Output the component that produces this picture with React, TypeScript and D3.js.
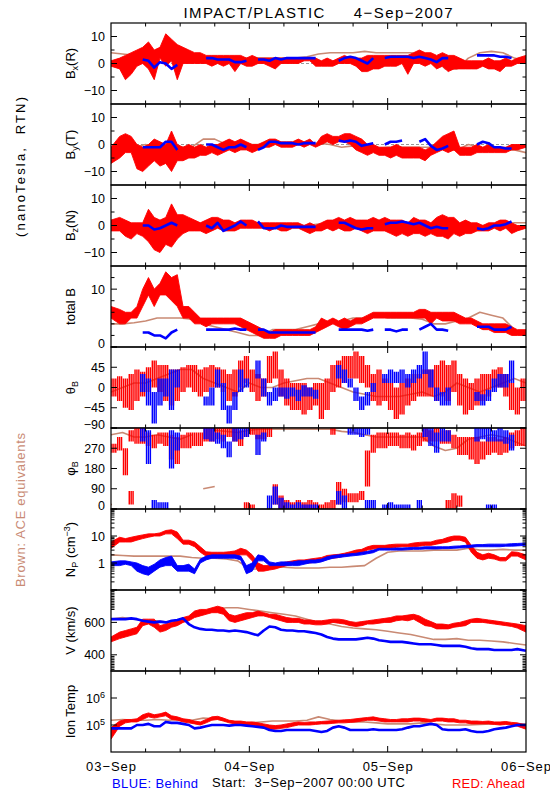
import React from "react";
import * as d3 from "d3";

type R = [number, number] | null;
type V = number | null;
const n = null;

// ---------- time axis ----------
const HOURS = 72;
const dayLabels = ["03-Sep", "04-Sep", "05-Sep", "06-Sep"];

// ---------- Bx(R) ----------
const bxRed: R[] = [[-1,1],[-2,2],[-6,3],[-4,4],[-1,5],[0,6],[-2,8],[-6,5],[2,6],[-1,11],
 [1,9],[-6,7],[0,6],[0,5],[0,4],[0,4],[0,3],[-1,3],[0,3],[-1,3],
 [0,3],[-3,3],[0,3],[-1,2],[-1,3],[0,2],[0,2],[-1,2],[-2,2],[0,2],
 [0,2],[0,2],[0,2],[1,2],[1,2],[-1,2],[-1,1],[-1,2],[-1,1],[0,2],
 [0,3],[0,2],[-1,2],[-3,2],[-3,3],[-2,3],[-2,3],[-1,3],[-1,3],[-1,3],
 [0,3],[-4,3],[0,4],[0,5],[-1,4],[0,4],[-2,3],[-1,4],[-3,3],[-2,3],
 [-2,2],[-2,1],[-2,1],[-2,1],[-1,1],[-2,2],[-2,1],[-3,1],[-1,2],[-1,1],
 [0,2],[0,3]];
const bxBlue: V[] = [n,n,n,n,n,1.5,1,-1.5,0.5,0,
 -2,-0.5,n,n,n,n,2,2,1.5,1.5,
 1.5,0.5,0.5,1,n,1.5,1.5,1,2,1.5,
 2,2,2,2,2,2,n,n,n,1,
 2,2.5,2,1,0,2,n,2,2.5,2.5,
 2.5,2.5,2,2.5,2,1.5,0.5,2,2,n,
 n,n,n,3,3,3,3,2.5,2.5,2,
 n,n];
const bxBrown: V[] = [4,3.5,3,3,4,5,4,3,2,2,1.5,2,2,2,2,2,2,2.5,3.5,4,4,4,4.5,4,4,4,4,3.5,2,-2,-2,2,4,4.5,4,2,1];

// ---------- By(T) ----------
const byRed: R[] = [[-7,-1],[-5,3],[-3,4],[-3,3],[-9,0],[-10,-1],[-8,0],[-6,2],[-8,1],[-7,0],
 [-10,5],[-6,0],[-6,-1],[-5,0],[-5,-1],[-4,0],[-4,-1],[-3,0],[-4,0],[-3,1],
 [-2,2],[-3,1],[-2,2],[-2,1],[-3,0],[-2,0],[-1,1],[-1,2],[0,2],[-1,1],
 [-1,1],[-1,1],[0,2],[-1,1],[0,2],[-1,0],[0,3],[1,4],[0,3],[1,3],
 [1,4],[0,4],[-2,3],[-3,2],[-4,0],[-3,0],[-4,-1],[-4,-1],[-5,-1],[-4,0],
 [-5,-1],[-5,-1],[-5,-1],[-5,-1],[-6,-2],[-4,-1],[-3,1],[-2,3],[-3,4],[-2,5],
 [-4,-1],[-4,-1],[-4,-1],[-3,0],[-3,-1],[-3,0],[-3,-1],[-3,-1],[-3,-1],[-2,0],
 [-2,0],[-1,0]];
const byBlue: V[] = [n,n,n,n,n,-1,-1,-1,-1,1,
 1,-2,n,n,n,n,0,0,-1,-2,
 -1,-1,0,-1,n,-2,-1,1,1,0.5,
 0.5,0.5,0,0.5,0.5,0.5,n,n,n,1.5,
 1,1.5,1,-0.5,0,0.5,n,0,1,1,
 1.5,n,n,1,2,-0.5,-2,-1.5,-0.5,n,
 n,n,n,0,1,0.5,-1,-1,-1.5,-1.5,
 n,n];
const byBrown: V[] = [-2,-2,-1,0,-1,-1,-1,-1,2,2,0,0,0,0,0.5,0,0,0,0.5,0,-1,-0.5,-1,-1.5,-1,-1,-1,-1,-1,-2,-2,0,-1,-2,-2,-2,-3];

// ---------- Bz(N) ----------
const bzRed: R[] = [[-2,2],[-2,3],[-4,2],[-5,1],[-3,1],[-4,1],[-6,6],[-9,3],[-10,2],[-7,3],
 [-8,8],[-5,4],[-3,4],[-2,3],[-2,2],[-2,1],[-3,2],[-2,3],[-1,3],[-2,2],
 [-2,2],[-2,1],[-1,2],[-1,2],[-1,2],[-1,1],[-1,1],[-2,1],[-1,1],[-2,1],
 [-2,1],[-1,1],[-1,1],[-2,0],[-3,1],[-2,0],[-2,1],[-1,2],[-2,2],[-1,3],
 [-2,2],[-2,3],[-1,2],[-2,2],[-3,2],[-2,3],[-2,2],[-2,3],[-3,2],[-4,2],
 [-3,2],[-4,1],[-3,3],[-3,2],[-4,2],[-3,1],[-4,3],[-4,4],[-5,3],[-3,3],
 [-4,1],[-3,2],[-3,1],[-2,1],[-2,0],[-2,1],[-1,1],[-2,2],[-1,2],[-3,1],
 [-2,0],[-1,0]];
const bzBlue: V[] = [n,n,n,n,n,0,0,-1.5,-1,0,
 1,0,n,n,n,n,0,-1,1,-2,
 -1,0,1.5,0,n,1.5,-1,-1,-1,0,
 -0.5,-0.5,-0.5,-0.5,-0.5,-0.5,n,n,n,1,
 1,0,-1,-1.5,-1,-1,n,0.5,1,1,
 1.5,1,0.5,1,0,-1,-0.5,-1,-1,n,
 n,n,n,-1,-1.5,-1,0,0,0.5,1.5,
 n,n];
const bzBrown: V[] = [1,1,0,0,-1,0,1,0.5,1,1,0,0,0,0,0,0,0,0,0.5,0.5,0,0,-0.5,-1,0,0,-0.5,-1,0,-1,0,0,0,0,0.5,1,1];

// ---------- total B ----------
const btRed: R[] = [[5,7],[4,6.5],[4,6],[5,6],[5,7],[7,10],[9,12],[7,10],[9,11],[9,13],
 [8,12],[7,12.5],[5,7],[5,7],[4,6],[4,5],[3.5,5],[4,5],[4,5],[4,5],
 [4,5],[4,5],[3.5,5],[3,4.5],[2.5,4],[2,3.5],[1.5,3],[1.5,2.5],[1.5,3],[2,3],
 [2,3],[2,3],[2,3],[2,3],[2,3],[2.5,3.5],[3,5],[3.5,4.5],[4,5],[3.5,4.5],
 [3,5],[3.5,4.5],[4,5],[4,5],[4.5,5.5],[5,6],[5,6],[5,6],[5,6],[5,6],
 [5,6],[5,6],[5,6],[5,6.5],[5,6.5],[4,6],[5,6],[4.5,6],[4.5,6],[4.5,6],
 [4,5.5],[4,5],[4,5],[3.5,4.5],[3,4],[3,4],[2.5,4],[2.5,4],[2.5,4],[2,3.5],
 [2,3],[2,3]];
const btBlue: V[] = [n,n,n,n,n,2.5,2.5,2,2,1.5,
 2.5,3,n,n,n,n,3,3,3,3,
 3,3.2,3,3,n,3,3,2.5,2.5,2.5,
 2.5,2.5,2.5,2.5,2.5,2.5,n,n,n,3,
 3,3,3,3,2.8,3,n,3,3,2.7,
 3,3,n,3,3.5,4,3,3,2.8,n,
 n,n,n,3.5,3.5,3.5,3,3,3,3.5,
 n,n];
const btBrown: V[] = [4,4,4.2,4.5,5,5,5,4.8,4,3.5,3,2.5,2,2,3,3,3,3.5,4,4,4.5,5,5,5.5,5,5,5,4.8,4,4,4.5,5,6,5.5,5,3,2];

// ---------- theta_B ----------
const thRed: R[] = [[-20,20],[-30,25],[-45,20],[-50,30],[-30,40],[-20,35],[-10,45],[0,60],[-10,50],[-30,50],
 [-40,40],[-30,40],[-10,45],[0,50],[-10,50],[-20,40],[-10,45],[0,50],[0,45],[-10,40],
 [-30,30],[-20,40],[0,60],[10,70],[-10,40],[-30,30],[-20,20],[10,70],[20,80],[-20,40],
 [-40,20],[-50,10],[-50,10],[-60,10],[-50,0],[-40,10],[-70,10],[-50,20],[-10,50],[0,60],
 [10,70],[20,70],[20,80],[10,70],[0,50],[-30,30],[-40,40],[-30,20],[-50,10],[-70,0],
 [-60,10],[-40,20],[-30,30],[-20,30],[-20,40],[-20,40],[-30,50],[-20,60],[-30,50],[-10,60],
 [-40,30],[-60,20],[-50,10],[-40,20],[-30,30],[-20,30],[0,40],[0,45],[-20,30],[-50,10],
 [-60,0],[-30,20]];
const thBlue: R[] = [n,n,n,n,n,[-10,30],[-40,20],[-80,-10],[-40,20],[-20,20],
 [-50,40],[0,40],n,n,n,n,[-40,-20],[-40,0],[0,40],[-50,10],
 [-80,-40],[-50,-10],[-10,40],[0,20],n,[20,60],[-20,20],[-40,-10],[-30,0],[-20,0],
 [-25,0],[-20,0],[-30,-5],[-20,5],[-20,0],[-25,-5],n,n,n,[20,50],
 [10,40],[0,20],[-30,0],[-50,-20],[-40,-10],[-10,10],n,[10,30],[10,40],[10,35],
 [10,40],[0,30],[10,40],[20,50],[30,80],[0,40],[-30,0],[-40,-10],[-40,0],n,
 n,n,n,[-30,-10],[-40,-15],[-30,-5],[-10,20],[0,30],[0,30],[10,60],
 n,n];
const thBrown: V[] = [-10,0,10,10,20,30,40,40,20,10,0,-10,10,0,0,10,15,20,20,10,0,-10,-15,-20,-20,-20,-15,-10,-20,-10,10,0,-10,0,10,20,10];

// ---------- phi_B ----------
const phRedUp: R[] = [[250,290],[260,320],[150,270],[300,350],[290,360],[290,360],[280,340],[270,330],[290,340],[280,340],
 [220,330],[200,320],[270,330],[270,340],[280,340],[280,340],[300,360],[300,360],[310,360],[300,360],
 [320,360],[300,360],[280,350],[320,360],[330,360],[310,360],[310,360],[320,360],n,n,
 n,n,n,n,n,n,n,n,[330,360],n,
 n,n,n,n,[100,260],[250,330],[270,340],[270,340],[280,340],[280,340],
 [270,330],[270,340],[260,330],[280,340],[300,360],[300,350],[300,360],[290,350],[290,350],[270,330],
 [240,320],[240,320],[220,320],[200,320],[220,300],[240,320],[250,320],[240,310],[250,320],[270,340],
 [280,350],[280,360]];
const phRedLo: R[] = [n,n,n,[20,80],n,n,n,n,n,n,
 n,n,n,n,n,n,n,n,n,n,
 n,n,n,[0,30],[0,20],n,n,n,[20,110],[0,60],
 [0,40],[0,30],[0,40],[0,30],[0,40],[0,30],[0,20],[0,30],[0,40],[20,120],
 [30,90],[30,70],[30,70],[40,80],n,n,n,n,n,n,
 n,n,n,n,n,n,n,n,[0,40],[0,70],
 [10,60],n,n,n,n,n,n,n,n,n,
 n,n];
const phBlueUp: R[] = [n,n,n,n,n,[300,360],[200,350],n,n,n,
 [180,350],[260,340],n,n,n,n,[310,360],[300,360],[290,340],[270,330],
 [230,300],[300,360],[310,360],[320,360],n,[240,330],[300,340],n,n,n,
 n,n,n,n,n,n,n,n,n,n,
 n,[330,360],[330,360],[320,360],[330,360],n,n,n,n,n,
 n,n,n,n,[320,360],[280,360],[250,340],[300,360],[300,350],n,
 n,n,n,[300,360],[310,360],[300,360],[300,350],[300,360],[290,350],[260,330],
 n,n];
const phBlueLo: R[] = [n,n,n,n,n,n,n,[0,40],[0,30],[0,30],
 n,n,n,n,n,n,n,n,n,n,
 n,n,n,n,n,n,n,[0,60],[20,100],[0,50],
 [0,30],[0,20],[0,30],[0,20],[0,20],[0,20],n,n,n,[20,80],
 [0,60],n,n,n,[0,40],[0,40],n,[0,20],[0,30],[0,20],
 [0,20],[0,20],n,[0,40],n,n,n,n,n,n,
 n,n,n,n,n,[0,20],[0,20],n,n,n,
 n,n];
const phBrownUp: V[] = [330,340,320,320,330,320,310,330,n,350,345,340,350,355,355,355,355,355,355,355,345,340,330,320,320,320,320,320,280,260,270,310,320,330,320,300,280];
const phBrownLo: V[] = [20,n,n,n,n,n,n,n,90,100,n,n,n,n,n,n,n,n,n,n,n,n,n,n,n,n,n,n,n,n,n,n,n,n,n,n,n];

// ---------- Np ----------
const npRed: R[] = [[3.5,6],[6,9],[6,8],[6,9],[7,10],[8,11],[9,12],[10,12],[10,13],[12,16],
 [12,17],[8,14],[5,7],[5,7],[4,6],[2.5,4],[1.8,2.6],[1.7,2.5],[1.7,2.5],[1.7,2.5],
 [1.7,2.6],[1.8,2.8],[2,3.5],[2,3],[1.2,2],[0.5,1],[0.5,0.8],[0.55,0.8],[0.6,0.9],[0.7,1],
 [0.8,1.1],[0.9,1.2],[0.9,1.3],[1,1.3],[1,1.4],[1.1,1.5],[1.2,1.6],[1.4,1.9],[1.5,2],[1.6,2.1],
 [1.8,2.3],[2,2.6],[2.2,3],[2.4,3.2],[3,4],[3.3,4.5],[3.5,4.5],[3.5,4.5],[3.5,4.8],[3.8,5],
 [4,5],[4,5],[4,5.5],[4.2,5.8],[4.5,6],[4.5,6],[5,7],[5.5,7.5],[6,9],[7,10],
 [7,10],[6,9],[2.5,4.5],[1.5,2.5],[1.3,2],[1.5,2.3],[1.4,2],[1.2,1.6],[1.2,1.6],[1.8,2.6],
 [1.8,2.5],[1.3,2]];
const npBlue: R[] = [[0.8,1.1],[0.8,1.2],[0.9,1.2],[0.8,1.1],[0.5,1],[0.4,0.8],[0.35,0.7],[0.5,0.9],[0.7,1.3],[0.8,1.6],
 [0.8,1.8],[0.5,0.8],[0.5,0.8],[0.5,0.9],[0.4,0.6],[1,1.4],[1.3,1.8],[1.5,2],[1.5,2],[1.5,2],
 [1.5,2],[1.5,2],[1.3,1.8],[0.4,0.8],[0.5,1],[1.2,2],[1.2,1.8],[0.8,1.1],[0.8,1],[0.8,1.1],
 [0.8,1.1],[0.8,1.1],[0.8,1.2],[0.9,1.2],[1,1.3],[1,1.3],[1.1,1.4],[1.3,1.7],[1.5,1.9],[1.6,2],
 [1.7,2.1],[1.8,2.2],[1.9,2.3],[2,2.5],[2.2,2.7],[2.4,3],[3,3.5],[3,3.5],[3,3.5],[3,3.6],
 [3,3.6],[3.1,3.7],[3.2,3.8],[3.2,3.8],[3.3,4],[3.3,4],[3.3,4],[3.4,4],[3.4,4],[3.5,4.2],
 [3.6,4.3],[3.7,4.5],[3.8,4.6],[4,4.8],[4,4.8],[4,5],[4,5],[4,5],[4.2,5],[4.2,5.2],
 [4.3,5.3],[4.5,5.5]];
const npBrown: V[] = [2,1.9,1.8,1.8,1.8,1.8,1.8,1.6,1.5,1.5,1.4,1.2,0.6,0.6,0.7,0.7,0.65,0.65,0.65,0.7,0.7,0.75,0.8,1.5,2.5,2.8,2.8,2.8,3,3,3,3.5,3,3,3.2,3,3];

// ---------- V ----------
const vRed: R[] = [[480,510],[500,540],[510,550],[520,560],[530,570],[580,620],[590,620],[570,620],[540,580],[550,590],
 [570,600],[580,610],[600,630],[610,640],[630,670],[640,680],[650,680],[660,690],[660,700],[650,690],
 [610,650],[600,640],[610,650],[620,660],[630,660],[640,670],[640,660],[630,650],[620,650],[610,640],
 [600,630],[600,625],[600,625],[590,615],[590,615],[585,610],[585,610],[590,615],[600,620],[595,620],
 [590,615],[580,605],[575,600],[580,605],[590,610],[590,615],[595,620],[600,625],[600,630],[610,640],
 [615,640],[610,645],[620,650],[600,640],[580,620],[575,605],[560,590],[560,590],[560,585],[570,595],
 [575,600],[580,610],[600,620],[600,625],[600,620],[595,615],[590,610],[585,605],[580,600],[575,595],
 [565,590],[540,580]];
const vBlue: V[] = [620,620,620,625,620,610,605,600,605,600,610,615,625,590,570,560,555,555,550,550,
 545,550,545,540,530,520,550,575,570,555,550,550,545,545,540,535,525,510,500,495,
 495,495,495,500,505,500,490,485,480,480,480,475,470,465,465,465,460,455,455,455,
 455,450,440,435,435,435,430,430,430,430,435,425];
const vBrown: V[] = [620,630,620,610,610,600,610,640,660,680,690,690,680,670,660,650,640,620,600,590,575,565,560,555,545,535,525,510,495,495,500,490,490,485,480,470,460];

// ---------- Ion Temp ----------
const tRed: R[] = [[3e4,8e4],[9e4,1.4e5],[1.2e5,1.6e5],[1.3e5,1.6e5],[1.3e5,1.7e5],[1.6e5,2.4e5],[2e5,2.8e5],[1.8e5,2.4e5],[2e5,2.6e5],[2.2e5,3e5],
 [1.6e5,2.2e5],[1.5e5,2e5],[1.3e5,1.7e5],[1.2e5,1.6e5],[1.1e5,1.4e5],[1e5,1.3e5],[1.2e5,1.6e5],[1.5e5,2e5],[1.6e5,2.1e5],[1.4e5,1.8e5],
 [1.2e5,1.5e5],[1.1e5,1.4e5],[1.1e5,1.4e5],[1e5,1.3e5],[1e5,1.3e5],[9e4,1.2e5],[8e4,1.1e5],[7e4,1e5],[7e4,9.5e4],[7.5e4,1e5],
 [8e4,1.1e5],[9e4,1.2e5],[1e5,1.3e5],[1e5,1.25e5],[1e5,1.3e5],[1.05e5,1.3e5],[1.1e5,1.35e5],[1.1e5,1.4e5],[1.15e5,1.45e5],[1.2e5,1.5e5],
 [1.2e5,1.55e5],[1.25e5,1.6e5],[1.3e5,1.7e5],[1.4e5,1.8e5],[1.5e5,1.9e5],[1.5e5,2e5],[1.4e5,1.8e5],[1.3e5,1.7e5],[1.3e5,1.6e5],[1.3e5,1.6e5],
 [1.3e5,1.7e5],[1.3e5,1.7e5],[1.4e5,1.8e5],[1.4e5,1.8e5],[1.3e5,1.7e5],[1.3e5,1.6e5],[1.4e5,1.8e5],[1.4e5,1.8e5],[1.3e5,1.7e5],[1.3e5,1.7e5],
 [1.2e5,1.5e5],[1.2e5,1.5e5],[1.1e5,1.4e5],[1.1e5,1.4e5],[1.1e5,1.35e5],[1.1e5,1.4e5],[1.05e5,1.3e5],[1e5,1.3e5],[1.05e5,1.35e5],[1e5,1.25e5],
 [9e4,1.2e5],[7e4,1e5]];
const tBlue: V[] = [7.5e4,7.5e4,7.5e4,7.5e4,1e5,1e5,1.1e5,9e4,9e4,1.3e5,1.2e5,1.2e5,1.1e5,1e5,7.5e4,8e4,9e4,1e5,1e5,1e5,
 9.5e4,1e5,1e5,9.5e4,9e4,8.5e4,8e4,6.5e4,6e4,6e4,6.5e4,6.5e4,6.5e4,6.5e4,6.5e4,6e4,5.5e4,6e4,8e4,9e4,
 8e4,6.5e4,6.5e4,6.5e4,6.5e4,7e4,6.5e4,6.5e4,6.5e4,6.5e4,7e4,8e4,9e4,9e4,1e5,1.1e5,1e5,7e4,6.5e4,6.5e4,
 6.5e4,7e4,6e4,5.5e4,5.5e4,6e4,7e4,7.5e4,8e4,9e4,1e5,1e5];
const tBrown: V[] = [1.5e5,1.6e5,1.5e5,1.5e5,1.6e5,1.5e5,1.6e5,1.5e5,1.8e5,1.7e5,1.4e5,1.3e5,1.2e5,1.3e5,1.4e5,1.4e5,1.4e5,1.5e5,2e5,1.6e5,1.4e5,1.3e5,1.3e5,1.2e5,1.1e5,1.1e5,1.1e5,1.2e5,1.1e5,1e5,1e5,1e5,1.05e5,1.1e5,1.2e5,1.1e5,1.1e5];

// ---------- layout / style ----------
const X0 = 111, X1 = 526, TOP = 23, PH = 81;
const RED = "#ff0000", BLUE = "#0000ff", BROWN = "#c98a74";
const FONT = "'Liberation Sans', Arial, sans-serif";
const xs = d3.scaleLinear().domain([0, HOURS]).range([X0, X1]);

const MINUS = "\u2212";
const fmt = (v: number) => (v < 0 ? MINUS + Math.abs(v) : String(v));
const sup = (base: string, e: string) => (<>{base}<tspan dy={-5} fontSize={9}>{e}</tspan></>);

interface PanelDef {
  y: any;
  major: number[];
  minor: number[];
  labels: { v: number; t: React.ReactNode }[];
  title: React.ReactNode;
  zero?: boolean;
  brown: V[][];
  red: R[][];
  hatch?: boolean;
  blueLine?: V[];
  blueBands?: R[][];
}

const bTicks = { major: [-10, 0, 10], minor: [-5, 5], labels: [-10, 0, 10].map((v) => ({ v, t: fmt(v) })) };
const sub = (base: string, s: string, rest: string) => (<>{base}<tspan dy={3} fontSize={9}>{s}</tspan><tspan dy={-3}>{rest}</tspan></>);

const logMinor = (decs: number[]) => decs.flatMap((d) => [2, 3, 4, 5, 6, 7, 8, 9].map((k) => k * d));
const vMinor = d3.range(310, 800, 10).filter((v) => v < 395 || v > 675);

const panels: PanelDef[] = [
  { y: d3.scaleLinear().domain([-15, 15]), ...bTicks, title: sub("B", "x", "(R)"), zero: true, brown: [bxBrown], red: [bxRed], blueLine: bxBlue },
  { y: d3.scaleLinear().domain([-15, 15]), ...bTicks, title: sub("B", "y", "(T)"), zero: true, brown: [byBrown], red: [byRed], blueLine: byBlue },
  { y: d3.scaleLinear().domain([-15, 15]), ...bTicks, title: sub("B", "z", "(N)"), zero: true, brown: [bzBrown], red: [bzRed], blueLine: bzBlue },
  { y: d3.scaleLinear().domain([0, 14]), major: [0, 10], minor: [2, 4, 6, 8, 12], labels: [{ v: 0, t: "0" }, { v: 10, t: "10" }], title: "total B", brown: [btBrown], red: [btRed], blueLine: btBlue },
  { y: d3.scaleLinear().domain([-90, 90]), major: [-90, -45, 0, 45, 90], minor: [], labels: [-90, -45, 0, 45].map((v) => ({ v, t: fmt(v) })), title: sub("\u03b8", "B", ""), brown: [thBrown], red: [thRed], hatch: true, blueBands: [thBlue] },
  { y: d3.scaleLinear().domain([0, 360]), major: [0, 90, 180, 270, 360], minor: [], labels: [0, 90, 180, 270].map((v) => ({ v, t: String(v) })), title: sub("\u03c6", "B", ""), brown: [phBrownUp, phBrownLo], red: [phRedUp, phRedLo], hatch: true, blueBands: [phBlueUp, phBlueLo] },
  { y: d3.scaleLog().domain([0.1, 100]), major: [0.1, 1, 10, 100], minor: logMinor([0.1, 1, 10]), labels: [{ v: 1, t: "1" }, { v: 10, t: "10" }], title: (<>N<tspan dy={3} fontSize={9}>P</tspan><tspan dy={-3}>{" (cm"}</tspan><tspan dy={-5} fontSize={9}>{MINUS + "3"}</tspan><tspan dy={5}>)</tspan></>), brown: [npBrown], red: [npRed], blueBands: [npBlue] },
  { y: d3.scaleLinear().domain([300, 800]), major: [400, 600, 800], minor: vMinor, labels: [{ v: 400, t: "400" }, { v: 600, t: "600" }], title: "V (km/s)", brown: [vBrown], red: [vRed], blueLine: vBlue },
  { y: d3.scaleLog().domain([1e4, 1e7]), major: [1e5, 1e6], minor: [], labels: [{ v: 1e5, t: sup("10", "5") }, { v: 1e6, t: sup("10", "6") }], title: "Ion Temp", brown: [tBrown], red: [tRed], blueLine: tBlue },
];

function isolated(arr: any[], j: number) {
  return arr[j] != null && (j === 0 || arr[j - 1] == null) && (j === arr.length - 1 || arr[j + 1] == null);
}

// bin centre in hours; the first and last bins are pinned to the frame edges
const binX = (j: number, len: number) => (j === 0 ? 0 : j === len - 1 ? len : j + 0.5);

function Bands({ data, y, color, hatch }: { data: R[]; y: any; color: string; hatch?: boolean }) {
  if (hatch) {
    const els: React.ReactNode[] = [];
    data.forEach((d, j) => {
      if (!d) return;
      let a = y(d[0]), b = y(d[1]);
      if (Math.abs(a - b) < 1.5) { a += 0.75; b -= 0.75; }
      [0.17, 0.5, 0.83].forEach((k, q) => {
        els.push(<line key={j + "-" + q} x1={xs(j + k)} x2={xs(j + k)} y1={a} y2={b} stroke={color} strokeWidth={1.45} />);
      });
    });
    return <g>{els}</g>;
  }
  const len = data.length;
  const area = d3.area<R>().defined((d) => d != null).x((_, j) => xs(binX(j, len))).y0((d) => y(d![0])).y1((d) => y(d![1]));
  return (
    <g>
      <path d={area(data) || ""} fill={color} stroke={color} strokeWidth={0.9} strokeLinejoin="round" />
      {data.map((d, j) => isolated(data, j) ? <rect key={j} x={xs(j)} width={xs(1) - xs(0)} y={y(d![1])} height={Math.max(1, y(d![0]) - y(d![1]))} fill={color} /> : null)}
    </g>
  );
}

function Line({ data, y, color, width, step }: { data: V[]; y: any; color: string; width: number; step: number }) {
  const len = data.length;
  const px = (j: number) => (step === 1 ? binX(j, len) : j * step);
  const line = d3.line<V>().defined((d) => d != null).x((_, j) => xs(px(j))).y((d) => y(d!));
  return (
    <g>
      <path d={line(data) || ""} fill="none" stroke={color} strokeWidth={width} strokeLinejoin="round" />
      {data.map((d, j) => isolated(data, j) ? <circle key={j} cx={xs(px(j))} cy={y(d!)} r={width / 2 + 0.3} fill={color} /> : null)}
    </g>
  );
}

function Panel({ p, i }: { p: PanelDef; i: number }) {
  const top = TOP + PH * i, bot = top + PH;
  const y = p.y.copy().range([bot, top]);
  const cid = "clip" + i;
  const xMinor = d3.range(6, 72, 6).filter((h) => h % 24 !== 0);
  const xMajor = [24, 48];
  return (
    <g>
      <defs>
        <clipPath id={cid}><rect x={X0} y={top} width={X1 - X0} height={PH} /></clipPath>
      </defs>
      <g clipPath={`url(#${cid})`}>
        {p.zero && <line x1={X0} x2={X1} y1={y(0)} y2={y(0)} stroke="#999" strokeWidth={1} strokeDasharray="3,2" />}
        {p.brown.map((b, k) => <Line key={"b" + k} data={b} y={y} color={BROWN} width={1.6} step={2} />)}
        {p.red.map((r, k) => <Bands key={"r" + k} data={r} y={y} color={RED} hatch={p.hatch} />)}
        {p.blueLine && <Line data={p.blueLine} y={y} color={BLUE} width={2.6} step={1} />}
        {p.blueBands && p.blueBands.map((b, k) => <Bands key={"u" + k} data={b} y={y} color={BLUE} hatch={p.hatch} />)}
      </g>
      {p.major.map((v) => (
        <g key={"M" + v}>
          <line x1={X0} x2={X0 + 6} y1={y(v)} y2={y(v)} stroke="#000" />
          <line x1={X1 - 6} x2={X1} y1={y(v)} y2={y(v)} stroke="#000" />
        </g>
      ))}
      {p.minor.map((v) => (
        <g key={"m" + v}>
          <line x1={X0} x2={X0 + 3.5} y1={y(v)} y2={y(v)} stroke="#000" />
          <line x1={X1 - 3.5} x2={X1} y1={y(v)} y2={y(v)} stroke="#000" />
        </g>
      ))}
      {xMajor.map((h) => (
        <g key={"X" + h}>
          <line x1={xs(h)} x2={xs(h)} y1={top} y2={top + 6} stroke="#000" />
          <line x1={xs(h)} x2={xs(h)} y1={bot - 6} y2={bot} stroke="#000" />
        </g>
      ))}
      {xMinor.map((h) => (
        <g key={"x" + h}>
          <line x1={xs(h)} x2={xs(h)} y1={top} y2={top + 3.5} stroke="#000" />
          <line x1={xs(h)} x2={xs(h)} y1={bot - 3.5} y2={bot} stroke="#000" />
        </g>
      ))}
      <rect x={X0} y={top} width={X1 - X0} height={PH} fill="none" stroke="#000" strokeWidth={1.2} />
      {p.labels.map((l) => {
        const yy = y(l.v);
        const shift = Math.abs(yy - bot) < 1 ? -4 : 0;
        return (
          <text key={"L" + l.v} x={105} y={yy + shift} dy="0.36em" textAnchor="end" fontSize={12.5} fontFamily={FONT}>{l.t}</text>
        );
      })}
      <text transform={`translate(75,${(top + bot) / 2}) rotate(-90)`} textAnchor="middle" fontSize={13} fontFamily={FONT}>{p.title}</text>
    </g>
  );
}

export default function App() {
  const bottom = TOP + PH * panels.length;
  return (
    <svg width={550} height={800} viewBox="0 0 550 800" style={{ position: "absolute", left: 0, top: 0, background: "#fff", display: "block" }}>
      <rect x={0} y={0} width={550} height={800} fill="#fff" />
      <text x={318} y={18} textAnchor="middle" fontSize={15} fontFamily={FONT} textLength={269} lengthAdjust="spacing" style={{ whiteSpace: "pre" }}>{"IMPACT/PLASTIC     4" + MINUS + "Sep" + MINUS + "2007"}</text>
      {panels.map((p, i) => <Panel key={i} p={p} i={i} />)}
      {dayLabels.map((t, k) => (
        <text key={t} x={xs(k * 24)} y={bottom + 19} textAnchor="middle" fontSize={13} fontFamily={FONT} textLength={50} lengthAdjust="spacing">{t.replace("-", MINUS)}</text>
      ))}
      <text x={112} y={bottom + 36} fontSize={13} fontFamily={FONT} fill={BLUE} textLength={86} lengthAdjust="spacing">BLUE: Behind</text>
      <text x={212} y={bottom + 35} fontSize={13} fontFamily={FONT} textLength={193} lengthAdjust="spacing" style={{ whiteSpace: "pre" }}>{"Start:  3" + MINUS + "Sep" + MINUS + "2007 00:00 UTC"}</text>
      <text x={452} y={bottom + 36} fontSize={13} fontFamily={FONT} fill={RED} textLength={73} lengthAdjust="spacing">RED: Ahead</text>
      <text transform="translate(25,167) rotate(-90)" textAnchor="middle" fontSize={13} fontFamily={FONT} textLength={140} lengthAdjust="spacing" style={{ whiteSpace: "pre" }}>{"(nanoTesla,  RTN)"}</text>
      <text transform="translate(25,510) rotate(-90)" textAnchor="middle" fontSize={13} fontFamily={FONT} fill={BROWN} textLength={154} lengthAdjust="spacing">Brown: ACE equivalents</text>
    </svg>
  );
}
